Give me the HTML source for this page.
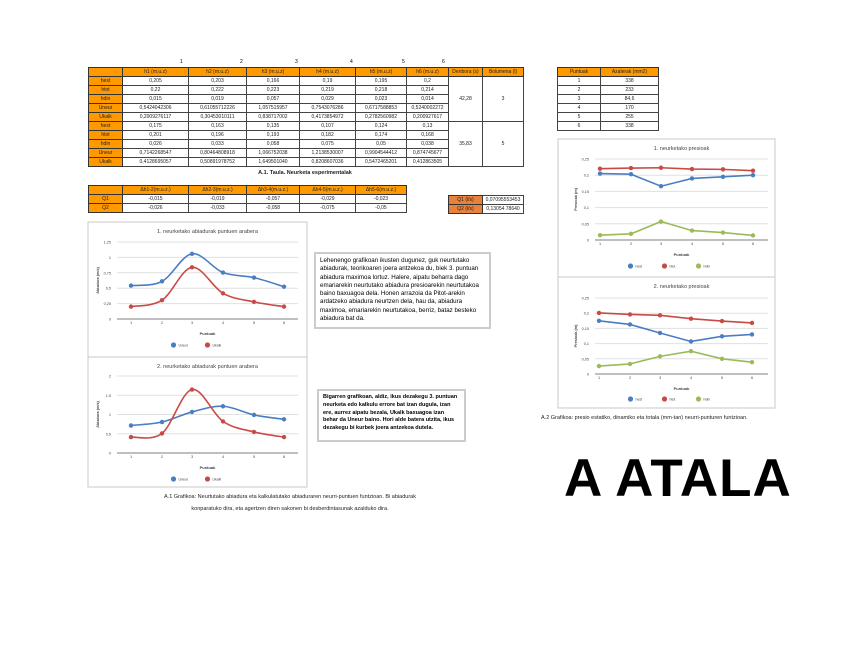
<!DOCTYPE html>
<html><head><meta charset="utf-8">
<style>
body{margin:0;width:848px;height:655px;background:#fff;position:relative;overflow:hidden;font-family:"Liberation Sans",sans-serif;}
.a{position:absolute;}
table{border-collapse:collapse;position:absolute;table-layout:fixed;font-size:5px;}
td{border:1px solid #444;text-align:center;padding:0;height:8px;line-height:8px;overflow:hidden;white-space:nowrap;color:#222}
td.o{background:#f90;border-color:#333}
td.q{background:#e9813a}
.box{position:absolute;border:1px solid #bbb;background:#fff}
.tb{position:absolute;border:2px solid #ccc;font-size:6.2px;line-height:8.3px;padding:3px 4px;color:#000;box-sizing:border-box}
.cap{position:absolute;font-size:5.5px;color:#222;text-align:center}
</style></head><body>
<div class="a" style="left:180px;top:59px;font-size:5px">1</div>
<div class="a" style="left:240px;top:59px;font-size:5px">2</div>
<div class="a" style="left:295px;top:59px;font-size:5px">3</div>
<div class="a" style="left:350px;top:59px;font-size:5px">4</div>
<div class="a" style="left:402px;top:59px;font-size:5px">5</div>
<div class="a" style="left:442px;top:59px;font-size:5px">6</div>
<table style="left:88px;top:67px;width:435px">
<colgroup><col style="width:34px"><col style="width:66px"><col style="width:58px"><col style="width:53px"><col style="width:56px"><col style="width:51px"><col style="width:42px"><col style="width:34px"><col style="width:41px"></colgroup>
<tr><td class="o"></td><td class="o">h1 (m.u.z)</td><td class="o">h2 (m.u.z)</td><td class="o">h3 (m.u.z)</td><td class="o">h4 (m.u.z)</td><td class="o">h5 (m.u.z)</td><td class="o">h6 (m.u.z)</td><td class="o">Denbora (s)</td><td class="o">Bolumena (l)</td></tr>
<tr><td class="o">hest</td><td>0,205</td><td>0,203</td><td>0,166</td><td>0,19</td><td>0,195</td><td>0,2</td><td rowspan="5">42,28</td><td rowspan="5">3</td></tr>
<tr><td class="o">htot</td><td>0,22</td><td>0,222</td><td>0,223</td><td>0,219</td><td>0,218</td><td>0,214</td></tr>
<tr><td class="o">hdin</td><td>0,015</td><td>0,019</td><td>0,057</td><td>0,029</td><td>0,023</td><td>0,014</td></tr>
<tr><td class="o">Uneur</td><td>0,5424042306</td><td>0,61055712226</td><td>1,057515957</td><td>0,7543076286</td><td>0,6717588853</td><td>0,5240002272</td></tr>
<tr><td class="o">Ukalk</td><td>0,2009276117</td><td>0,30453010111</td><td>0,838717002</td><td>0,4173854972</td><td>0,2782560982</td><td>0,200927617</td></tr>
<tr><td class="o">hest</td><td>0,175</td><td>0,163</td><td>0,135</td><td>0,107</td><td>0,124</td><td>0,13</td><td rowspan="5">35,83</td><td rowspan="5">5</td></tr>
<tr><td class="o">htot</td><td>0,201</td><td>0,196</td><td>0,193</td><td>0,182</td><td>0,174</td><td>0,168</td></tr>
<tr><td class="o">hdin</td><td>0,026</td><td>0,033</td><td>0,058</td><td>0,075</td><td>0,05</td><td>0,038</td></tr>
<tr><td class="o">Uneur</td><td>0,7142268547</td><td>0,80464808918</td><td>1,066752038</td><td>1,2138530007</td><td>0,9904544412</td><td>0,874745677</td></tr>
<tr><td class="o">Ukalk</td><td>0,4128695057</td><td>0,50891978752</td><td>1,649501040</td><td>0,8208607036</td><td>0,5472465201</td><td>0,412863505</td></tr>
</table>
<div class="cap" style="left:205px;top:170px;width:200px;font-weight:bold">A.1. Taula. Neurketa esperimentalak</div>

<table style="left:88px;top:185px;width:318px">
<colgroup><col style="width:34px"><col style="width:66px"><col style="width:58px"><col style="width:53px"><col style="width:56px"><col style="width:51px"></colgroup>
<tr><td class="o"></td><td class="o">Δh1-2(m.u.z.)</td><td class="o">Δh2-3(m.u.z.)</td><td class="o">Δh3-4(m.u.z.)</td><td class="o">Δh4-5(m.u.z.)</td><td class="o">Δh5-6(m.u.z.)</td></tr>
<tr><td class="o">Q1</td><td>-0,015</td><td>-0,019</td><td>-0,057</td><td>-0,029</td><td>-0,023</td></tr>
<tr><td class="o">Q2</td><td>-0,026</td><td>-0,033</td><td>-0,058</td><td>-0,075</td><td>-0,05</td></tr>
</table>
<table style="left:448px;top:195px;width:75px">
<colgroup><col style="width:34px"><col style="width:41px"></colgroup>
<tr><td class="o q">Q1 (l/s)</td><td>0,07095553453</td></tr>
<tr><td class="o q">Q2 (l/s)</td><td>0,13054 78640</td></tr>
</table>

<table style="left:557px;top:67px;width:101px">
<colgroup><col style="width:43px"><col style="width:58px"></colgroup>
<tr><td class="o">Puntuak</td><td class="o">Azalerak (mm2)</td></tr>
<tr><td>1</td><td>338</td></tr><tr><td>2</td><td>233</td></tr><tr><td>3</td><td>84,6</td></tr>
<tr><td>4</td><td>170</td></tr><tr><td>5</td><td>255</td></tr><tr><td>6</td><td>338</td></tr>
</table>

<div class="tb" style="left:314px;top:252px;width:177px;height:77px">Lehenengo grafikoan ikusten dugunez, guk neurtutako abiadurak, teorikoaren joera antzekoa du, biek 3. puntuan abiadura maximoa lortuz. Halere, aipatu beharra dago emariarekin neurtutako abiadura presioarekin neurtutakoa baino baxuagoa dela. Honen arrazoia da Pitot-arekin ardatzeko abiadura neurtzen dela, hau da, abiadura maximoa, emariarekin neurtutakoa, berriz, bataz besteko abiadura bat da.</div>
<div class="tb" style="left:317px;top:389px;width:149px;height:53px;font-weight:bold;font-size:5.5px;line-height:7.8px">Bigarren grafikoan, aldiz, ikus dezakegu 3. puntuan neurketa edo kalkulu errore bat izan dugula, izan ere, aurrez aipatu bezala, Ukalk baxuagoa izan behar da Uneur baino. Hori alde batera utzita, ikus dezakegu bi kurbek joera antzekoa dutela.</div>
<div class="cap" style="left:150px;top:491px;width:280px;line-height:12px">A.1 Grafikoa: Neurtutako abiadura eta kalkulatutako abiaduraren neurri-puntuen funtzioan. Bi abiadurak konparatuko dira, eta agertzen diren sakonen bi desberdintasunak azalduko dira.</div>
<div class="cap" style="left:541px;top:415px;width:240px;text-align:left">A.2 Grafikoa: presio estatiko, dinamiko eta totala (mm-tan) neurri-punturen funtzioan.</div>
<div class="a" style="left:564px;top:448px;font-size:53px;font-weight:bold;letter-spacing:1px">A ATALA</div>

<svg id="s" class="a" style="left:0;top:0" width="848" height="655"></svg>
<script>
var S=document.getElementById('s'),h='';
function txt(x,y,t,sz,anc,extra){h+='<text x="'+x+'" y="'+y+'" font-size="'+sz+'" text-anchor="'+(anc||'middle')+'" fill="#444" '+(extra||'')+'>'+t+'</text>';}
function smooth(p){var d='M'+p[0][0]+','+p[0][1];for(var i=0;i<p.length-1;i++){var p0=p[i-1]||p[i],p1=p[i],p2=p[i+1],p3=p[i+2]||p2;d+=' C'+(p1[0]+(p2[0]-p0[0])/6)+','+(p1[1]+(p2[1]-p0[1])/6)+' '+(p2[0]-(p3[0]-p1[0])/6)+','+(p2[1]-(p3[1]-p1[1])/6)+' '+p2[0]+','+p2[1];}return d;}
function chart(c){
 h+='<rect x="'+c.bx+'" y="'+c.by+'" width="'+c.bw+'" height="'+c.bh+'" fill="#fff" stroke="#c8c8c8" stroke-width="1"/>';
 txt((c.gx1+c.gx2)/2,c.ty,c.title,5.5,'middle','fill="#666"');
 for(var i=0;i<c.ticks.length;i++){var y=c.y0-(c.y0-c.ytop)*i/(c.ticks.length-1);
  h+='<line x1="'+c.gx1+'" x2="'+c.gx2+'" y1="'+y+'" y2="'+y+'" stroke="'+(i?'#e0e0e0':'#999')+'" stroke-width="'+(i?1:1.2)+'"/>';
  txt(c.gx1-6,y+1.5,c.ticks[i],3.8,'end');}
 var sc=(c.y0-c.ytop)/c.max;
 for(var j=0;j<6;j++)txt(c.xs[j],c.y0+5,j+1,3.8);
 txt((c.gx1+c.gx2)/2,c.y0+16,'Puntuak',4,'middle','font-weight="bold"');
 txt(c.gx1-18,(c.y0+c.ytop)/2,c.yl,3.8,'middle','font-weight="bold" transform="rotate(-90 '+(c.gx1-18)+' '+(c.y0+c.ytop)/2+')"');
 var lx=(c.gx1+c.gx2)/2-c.series.length*17;
 c.series.forEach(function(s,k){
  var p=s.d.map(function(v,j){return [c.xs[j],c.y0-v*sc];});
  var d=c.sm?smooth(p):'M'+p.map(function(q){return q.join(',')}).join(' L');
  h+='<path d="'+d+'" fill="none" stroke="'+s.c+'" stroke-width="1.6"/>';
  p.forEach(function(q){h+='<circle cx="'+q[0]+'" cy="'+q[1]+'" r="2.2" fill="'+s.c+'"/>';});
  var x=lx+k*34;h+='<circle cx="'+x+'" cy="'+c.ly+'" r="2.6" fill="'+s.c+'"/>';txt(x+5,c.ly+1.3,s.n,3.5,'start');
 });
}
var B='#4a7ec3',R='#c94a45',G='#9bbb59';
chart({bx:88,by:222,bw:219,bh:135,gx1:117,gx2:298,y0:319,ytop:242,max:1.25,ticks:['0','0,25','0,5','0,75','1','1,25'],xs:[131,162,192,223,254,284],ty:233,ly:345,yl:'Abiadura (m/s)',sm:1,title:'1. neurketako abiadurak puntuen arabera',
 series:[{n:'Uneur',c:B,d:[.542,.611,1.058,.754,.672,.524]},{n:'Ukalk',c:R,d:[.201,.305,.839,.417,.278,.201]}]});
chart({bx:88,by:357,bw:219,bh:130,gx1:117,gx2:298,y0:453,ytop:376,max:2,ticks:['0','0,5','1','1,5','2'],xs:[131,162,192,223,254,284],ty:368,ly:479,yl:'Abiadura (m/s)',sm:1,title:'2. neurketako abiadurak puntuen arabera',
 series:[{n:'Uneur',c:B,d:[.714,.805,1.067,1.214,.990,.875]},{n:'Ukalk',c:R,d:[.413,.509,1.649,.821,.547,.413]}]});
chart({bx:558,by:139,bw:217,bh:138,gx1:595,gx2:768,y0:240,ytop:159,max:.25,ticks:['0','0,05','0,1','0,15','0,2','0,25'],xs:[600,631,661,692,723,753],ty:150,ly:266,yl:'Presioak (m)',sm:0,title:'1. neurketako presioak',
 series:[{n:'hest',c:B,d:[.205,.203,.166,.19,.195,.2]},{n:'htot',c:R,d:[.22,.222,.223,.219,.218,.214]},{n:'hdin',c:G,d:[.015,.019,.057,.029,.023,.014]}]});
chart({bx:558,by:277,bw:217,bh:131,gx1:595,gx2:768,y0:374,ytop:298,max:.25,ticks:['0','0,05','0,1','0,15','0,2','0,25'],xs:[599,630,660,691,722,752],ty:288,ly:399,yl:'Presioak (m)',sm:0,title:'2. neurketako presioak',
 series:[{n:'hest',c:B,d:[.175,.163,.135,.107,.124,.13]},{n:'htot',c:R,d:[.201,.196,.193,.182,.174,.168]},{n:'hdin',c:G,d:[.026,.033,.058,.075,.05,.039]}]});
S.innerHTML=h;
</script>
</body></html>
